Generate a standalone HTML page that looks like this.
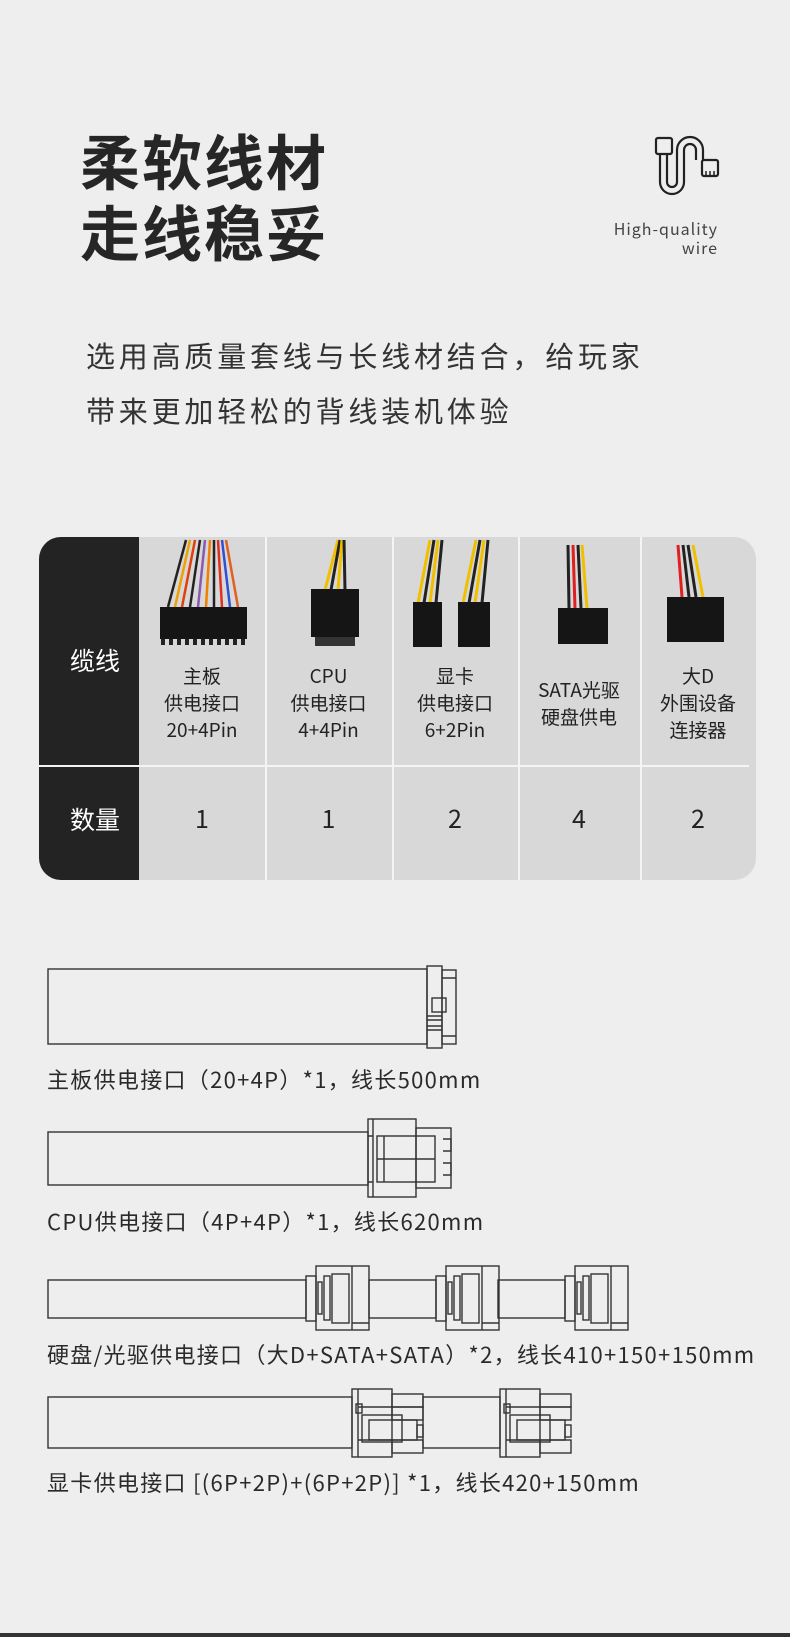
<!DOCTYPE html>
<html><head><meta charset="utf-8">
<style>
html,body{margin:0;padding:0}
body{width:790px;height:1637px;background:#eeeeee;position:relative;overflow:hidden;font-family:"Liberation Sans","Noto Sans CJK SC",sans-serif;color:#2a2a2a}
.abs{position:absolute;white-space:nowrap}
.t1{left:80px;font-size:60px;font-weight:bold;letter-spacing:2px;line-height:71px;color:#262626;font-family:"Noto Sans CJK SC",sans-serif}
.p{left:86px;font-size:29px;letter-spacing:3.8px;color:#333;font-family:"Noto Sans CJK SC",sans-serif}
.hq{right:72px;text-align:right;font-size:16px;letter-spacing:1px;line-height:19px;color:#444;font-family:"Noto Sans CJK SC",sans-serif}
.col{position:absolute;text-align:center;font-size:19px;line-height:27px;color:#222;font-family:"Noto Sans CJK SC",sans-serif}
.num{position:absolute;text-align:center;font-size:25px;color:#222;top:800px;font-family:"Noto Sans CJK SC",sans-serif}
.lab{position:absolute;left:47px;font-size:22px;letter-spacing:1.3px;color:#2a2a2a;font-family:"Noto Sans CJK SC",sans-serif;white-space:nowrap}
</style></head><body>
<div class="abs t1" style="top:124px">柔软线材<br>走线稳妥</div>
<div class="abs hq" style="top:219px">High-quality<br>wire</div>
<svg class="abs" style="left:650px;top:130px" width="72" height="68" viewBox="0 0 72 68" fill="none" stroke="#222" stroke-width="2.2">
<rect x="6" y="8" width="16" height="16" rx="2"/>
<rect x="52" y="30" width="16" height="16" rx="2"/>
<path d="M10 24 V52 a12 12 0 0 0 24 0 V20 a6 6 0 0 1 12 0 V30"/>
<path d="M17 24 V52 a5 5 0 0 0 10 0 V20 a13 13 0 0 1 26 0 V30"/>
<path d="M56 46 v-5 M60 46 v-5 M64 46 v-5" stroke-width="1.5"/>
</svg>
<div class="abs p" style="top:334px">选用高质量套线与长线材结合，给玩家</div>
<div class="abs p" style="top:389px">带来更加轻松的背线装机体验</div>

<div class="abs" style="left:39px;top:537px;width:717px;height:343px;border-radius:22px;background:#d8d8d8;overflow:hidden">
 <div style="position:absolute;left:0;top:0;width:100px;height:343px;background:#232323"></div>
 <div style="position:absolute;left:226px;top:0;width:1.5px;height:343px;background:#f4f4f4"></div>
 <div style="position:absolute;left:353px;top:0;width:1.5px;height:343px;background:#f4f4f4"></div>
 <div style="position:absolute;left:479px;top:0;width:1.5px;height:343px;background:#f4f4f4"></div>
 <div style="position:absolute;left:601px;top:0;width:1.5px;height:343px;background:#f4f4f4"></div>
 <div style="position:absolute;left:0;top:228px;width:710px;height:1.5px;background:#f4f4f4"></div>
</div>
<div class="abs" style="left:70px;top:642px;font-size:25px;color:#fff;font-family:'Noto Sans CJK SC',sans-serif">缆线</div>
<div class="abs" style="left:70px;top:801px;font-size:25px;color:#fff;font-family:'Noto Sans CJK SC',sans-serif">数量</div>

<svg class="abs" style="left:0;top:537px" width="790" height="120" viewBox="0 537 790 120">
 <g stroke-width="2.5" fill="none">
  <path d="M175 607 L190 540" stroke="#f0a000"/><path d="M182 607 L195 540" stroke="#e04010"/>
  <path d="M190 607 L200 540" stroke="#222"/><path d="M198 607 L205 540" stroke="#8a5ab0"/>
  <path d="M206 607 L210 540" stroke="#f08000"/><path d="M214 607 L214 540" stroke="#222"/>
  <path d="M222 607 L218 540" stroke="#e03020"/><path d="M230 607 L222 540" stroke="#3050d0"/>
  <path d="M238 607 L226 540" stroke="#e06020"/><path d="M168 607 L186 540" stroke="#222"/>
 </g>
 <rect x="160" y="607" width="87" height="32" fill="#151515"/>
 <path d="M163 639 v6 M171 639 v6 M179 639 v6 M187 639 v6 M195 639 v6 M203 639 v6 M211 639 v6 M219 639 v6 M227 639 v6 M235 639 v6 M243 639 v6" stroke="#222" stroke-width="4"/>
 <g stroke-width="3" fill="none">
  <path d="M325 590 L338 540" stroke="#f0c000"/><path d="M331 590 L340 540" stroke="#222"/>
  <path d="M338 590 L342 540" stroke="#f0c000"/><path d="M345 590 L344 540" stroke="#222"/>
 </g>
 <rect x="311" y="589" width="48" height="48" fill="#151515"/>
 <rect x="315" y="637" width="40" height="9" fill="#333"/>
 <g stroke-width="3" fill="none">
  <path d="M418 603 L430 540" stroke="#f0c000"/><path d="M424 603 L434 540" stroke="#222"/>
  <path d="M430 603 L438 540" stroke="#f0c000"/><path d="M436 603 L442 540" stroke="#222"/>
  <path d="M463 603 L476 540" stroke="#f0c000"/><path d="M469 603 L480 540" stroke="#222"/>
  <path d="M475 603 L484 540" stroke="#f0c000"/><path d="M482 603 L488 540" stroke="#222"/>
 </g>
 <rect x="413" y="602" width="29" height="45" fill="#151515"/>
 <rect x="458" y="602" width="32" height="45" fill="#151515"/>
 <g stroke-width="3" fill="none">
  <path d="M569 608 L568 545" stroke="#222"/><path d="M575 608 L573 545" stroke="#e02020"/>
  <path d="M581 608 L578 545" stroke="#222"/><path d="M587 608 L582 545" stroke="#f0c000"/>
 </g>
 <rect x="558" y="608" width="50" height="36" fill="#151515"/>
 <g stroke-width="3" fill="none">
  <path d="M682 597 L678 545" stroke="#e02020"/><path d="M689 597 L683 545" stroke="#222"/>
  <path d="M696 597 L688 545" stroke="#222"/><path d="M703 597 L693 545" stroke="#f0c000"/>
 </g>
 <rect x="667" y="597" width="57" height="45" fill="#151515"/>
</svg>

<div class="col" style="left:139px;width:126px;top:662px">主板<br>供电接口<br>20+4Pin</div>
<div class="col" style="left:265px;width:127px;top:662px">CPU<br>供电接口<br>4+4Pin</div>
<div class="col" style="left:392px;width:126px;top:662px">显卡<br>供电接口<br>6+2Pin</div>
<div class="col" style="left:518px;width:122px;top:676px">SATA光驱<br>硬盘供电</div>
<div class="col" style="left:640px;width:116px;top:662px">大D<br>外围设备<br>连接器</div>
<div class="num" style="left:139px;width:126px">1</div>
<div class="num" style="left:265px;width:127px">1</div>
<div class="num" style="left:392px;width:126px">2</div>
<div class="num" style="left:518px;width:122px">4</div>
<div class="num" style="left:640px;width:116px">2</div>

<svg class="abs" style="left:0;top:950px" width="790" height="520" viewBox="0 950 790 520" fill="none" stroke="#333" stroke-width="1.4">
 <rect x="48" y="969" width="379" height="75"/>
 <rect x="427" y="966" width="15" height="82"/>
 <rect x="442" y="970" width="14" height="74"/>
 <path d="M427 1016 h15 M427 1020 h15 M427 1026 h15 M427 1030 h15 M442 978 h14 M442 1036 h14"/>
 <rect x="432" y="998" width="14" height="14"/>
 <rect x="48" y="1132" width="320" height="53"/>
 <rect x="368" y="1119" width="48" height="78"/>
 <path d="M373 1119 v78 M368 1136 h5 M368 1182 h5"/>
 <rect x="377" y="1136" width="58" height="46"/>
 <path d="M384 1136 v46 M377 1159 h58"/>
 <rect x="416" y="1128" width="35" height="60"/>
 <path d="M443 1139 h8 v12 h-8 M443 1163 h8 v12 h-8"/>
 <rect x="48" y="1280" width="258" height="38"/>
 <g id="sc">
  <rect x="306" y="1276" width="10" height="45"/>
  <rect x="316" y="1266" width="53" height="64"/>
  <rect x="318" y="1282" width="4" height="32"/>
  <rect x="324" y="1276" width="6" height="44"/>
  <rect x="332" y="1274" width="17" height="49"/>
  <path d="M352 1266 v64 M352 1323 h17"/>
 </g>
 <rect x="369" y="1280" width="67" height="38"/>
 <use href="#sc" x="130"/>
 <rect x="498" y="1280" width="67" height="38"/>
 <use href="#sc" x="259"/>
 <rect x="48" y="1397" width="304" height="51"/>
 <g id="gc">
  <rect x="352" y="1389" width="40" height="68"/>
  <path d="M358 1389 v68 M358 1407 h34 M358 1440 h34"/>
  <rect x="356" y="1404" width="6" height="9"/>
  <rect x="362" y="1415" width="40" height="27"/>
  <rect x="369" y="1420" width="48" height="20"/>
  <rect x="392" y="1394" width="31" height="13"/>
  <rect x="392" y="1407" width="31" height="13"/>
  <rect x="392" y="1440" width="31" height="13"/>
  <rect x="417" y="1425" width="6" height="12"/>
 </g>
 <rect x="423" y="1397" width="77" height="51"/>
 <use href="#gc" x="148"/>
</svg>
<div class="lab" style="top:1063px">主板供电接口（20+4P）*1，线长500mm</div>
<div class="lab" style="top:1205px">CPU供电接口（4P+4P）*1，线长620mm</div>
<div class="lab" style="top:1338px">硬盘/光驱供电接口（大D+SATA+SATA）*2，线长410+150+150mm</div>
<div class="lab" style="top:1466px">显卡供电接口 [(6P+2P)+(6P+2P)] *1，线长420+150mm</div>
<div class="abs" style="left:0;top:1633px;width:790px;height:4px;background:#333"></div>
</body></html>
